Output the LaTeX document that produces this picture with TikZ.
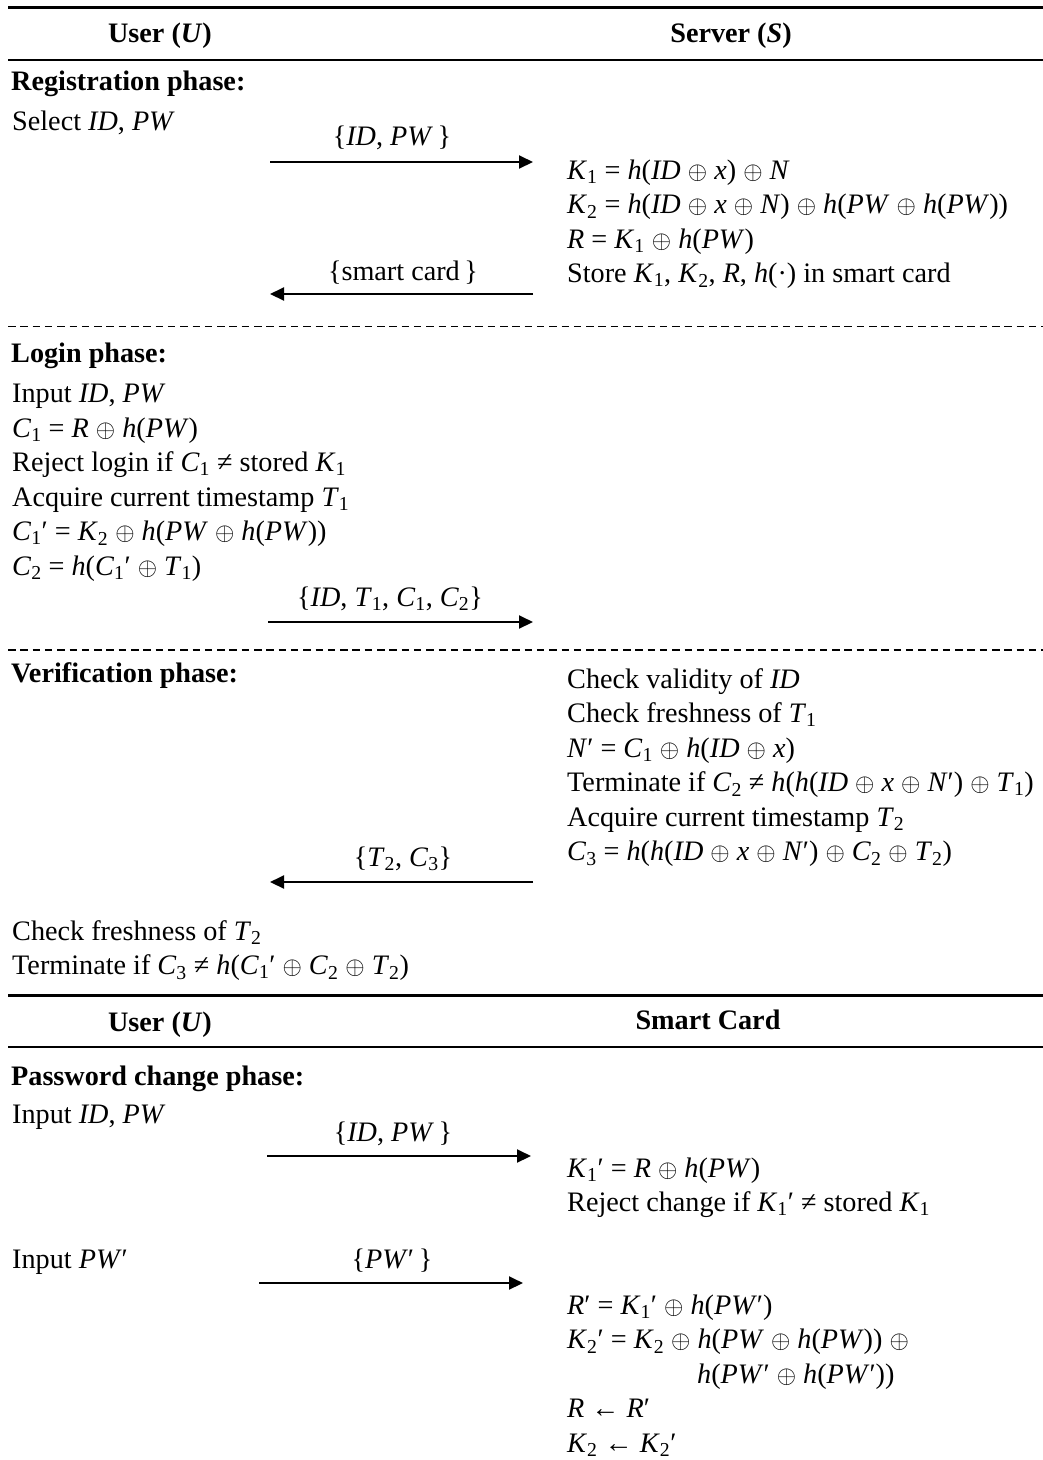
\documentclass[tikz,border=0pt]{standalone}
\usepackage{fontspec}
\setmainfont{Liberation Serif}
\usetikzlibrary{arrows.meta}
\newcommand\mi[1]{\textit{#1}}
\newcommand\sbs[1]{\textsubscript{#1}}
\newcommand\xo{$\oplus$}
\newcommand\fsz{\fontsize{28.2}{33}\selectfont}
\tikzset{
  txt/.style={anchor=base west, inner sep=0pt},
  ttl/.style={anchor=base west, inner sep=0pt, font=\fsz\bfseries},
  hdr/.style={anchor=base, inner sep=0pt, font=\fsz\bfseries},
  lbl/.style={anchor=base, inner sep=0pt},
  msg/.style={line width=2pt, -{Triangle[length=14pt,width=13pt]}},
  thickrule/.style={line width=3pt},
  thinrule/.style={line width=2pt},
  dashrule/.style={line width=1.4pt, dash pattern=on 7.5pt off 4.8pt},
}
\begin{document}
\begin{tikzpicture}[x=1pt,y=-1pt,every node/.append style={font=\fsz}]
\useasboundingbox (0,0) rectangle (1043,1460);
% rules
\draw[thickrule] (8,7) -- (1043,7);
\draw[thinrule] (8,60) -- (1043,60);
\draw[dashrule] (8,326.5) -- (1043,326.5);
\draw[dashrule] (8,650) -- (1043,650);
\draw[thickrule] (8,995) -- (1043,995);
\draw[thinrule] (8,1047) -- (1043,1047);
% headers
\node[hdr] (hu) at (160,42) {User (\textit{U})};
\node[hdr] (hs) at (731,42) {Server (\textit{S})};
% registration
\node[ttl] (regt) at (11,90) {Registration phase:};
\node[txt] (u1) at (12,130) {Select \mi{ID}, \mi{PW}};
\node[lbl] (m1) at (392,145) {\{\mi{ID}, \mi{PW}\,\}};
\coordinate (a1s) at (270,162);
\coordinate (a1e) at (533,162);
\draw[msg] (a1s) -- (a1e);
\node[txt] (s1) at (567,179) {\mi{K}\sbs{1} = \mi{h}(\mi{ID} \xo{} \mi{x}) \xo{} \mi{N}};
\node[txt] (s2) at (567,213.5) {\mi{K}\sbs{2} = \mi{h}(\mi{ID} \xo{} \mi{x} \xo{} \mi{N}) \xo{} \mi{h}(\mi{PW} \xo{} \mi{h}(\mi{PW}))};
\node[txt] (s3) at (567,248) {\mi{R} = \mi{K}\sbs{1} \xo{} \mi{h}(\mi{PW})};
\node[txt] (s4) at (567,282.5) {Store \mi{K}\sbs{1}, \mi{K}\sbs{2}, \mi{R}, \mi{h}(·) in smart card};
\node[lbl] (m2) at (403,280) {\{smart card\,\}};
\coordinate (a2s) at (533,294);
\coordinate (a2e) at (270,294);
\draw[msg] (a2s) -- (a2e);
% login
\node[ttl] (lt) at (11,362) {Login phase:};
\node[txt] (l1) at (12,402) {Input \mi{ID}, \mi{PW}};
\node[txt] (l2) at (12,437) {\mi{C}\sbs{1} = \mi{R} \xo{} \mi{h}(\mi{PW})};
\node[txt] (l3) at (12,471.5) {Reject login if \mi{C}\sbs{1} ≠ stored \mi{K}\sbs{1}};
\node[txt] (l4) at (12,506) {Acquire current timestamp \mi{T}\sbs{1}};
\node[txt] (l5) at (12,540.5) {\mi{C}\sbs{1}′ = \mi{K}\sbs{2} \xo{} \mi{h}(\mi{PW} \xo{} \mi{h}(\mi{PW}))};
\node[txt] (l6) at (12,575) {\mi{C}\sbs{2} = \mi{h}(\mi{C}\sbs{1}′ \xo{} \mi{T}\sbs{1})};
\node[lbl] (m3) at (390,606) {\{\mi{ID}, \mi{T}\sbs{1}, \mi{C}\sbs{1}, \mi{C}\sbs{2}\}};
\coordinate (a3s) at (268,622);
\coordinate (a3e) at (533,622);
\draw[msg] (a3s) -- (a3e);
% verification
\node[ttl] (vt) at (11,682) {Verification phase:};
\node[txt] (v1) at (567,688) {Check validity of \mi{ID}};
\node[txt] (v2) at (567,722.5) {Check freshness of \mi{T}\sbs{1}};
\node[txt] (v3) at (567,757) {\mi{N}′ = \mi{C}\sbs{1} \xo{} \mi{h}(\mi{ID} \xo{} \mi{x})};
\node[txt] (v4) at (567,791.5) {Terminate if \mi{C}\sbs{2} ≠ \mi{h}(\mi{h}(\mi{ID} \xo{} \mi{x} \xo{} \mi{N}′) \xo{} \mi{T}\sbs{1})};
\node[txt] (v5) at (567,826) {Acquire current timestamp \mi{T}\sbs{2}};
\node[txt] (v6) at (567,860.5) {\mi{C}\sbs{3} = \mi{h}(\mi{h}(\mi{ID} \xo{} \mi{x} \xo{} \mi{N}′) \xo{} \mi{C}\sbs{2} \xo{} \mi{T}\sbs{2})};
\node[lbl] (m4) at (403,866) {\{\mi{T}\sbs{2}, \mi{C}\sbs{3}\}};
\coordinate (a4s) at (533,882);
\coordinate (a4e) at (270,882);
\draw[msg] (a4s) -- (a4e);
\node[txt] (w1) at (12,940) {Check freshness of \mi{T}\sbs{2}};
\node[txt] (w2) at (12,974.5) {Terminate if \mi{C}\sbs{3} ≠ \mi{h}(\mi{C}\sbs{1}′ \xo{} \mi{C}\sbs{2} \xo{} \mi{T}\sbs{2})};
% password change
\node[hdr] (hu2) at (160,1031) {User (\textit{U})};
\node[hdr] (hsc) at (708,1029) {Smart Card};
\node[ttl] (pt) at (11,1085) {Password change phase:};
\node[txt] (p1) at (12,1123) {Input \mi{ID}, \mi{PW}};
\node[lbl] (m5) at (393,1141) {\{\mi{ID}, \mi{PW}\,\}};
\coordinate (a5s) at (267,1156);
\coordinate (a5e) at (531,1156);
\draw[msg] (a5s) -- (a5e);
\node[txt] (c1) at (567,1177) {\mi{K}\sbs{1}′ = \mi{R} \xo{} \mi{h}(\mi{PW})};
\node[txt] (c2) at (567,1211.5) {Reject change if \mi{K}\sbs{1}′ ≠ stored \mi{K}\sbs{1}};
\node[txt] (p2) at (12,1268) {Input \mi{PW}′};
\node[lbl] (m6) at (392,1268) {\{\mi{PW}′\,\}};
\coordinate (a6s) at (259,1283);
\coordinate (a6e) at (523,1283);
\draw[msg] (a6s) -- (a6e);
\node[txt] (c3) at (567,1314) {\mi{R}′ = \mi{K}\sbs{1}′ \xo{} \mi{h}(\mi{PW}′)};
\node[txt] (c4) at (567,1348.5) {\mi{K}\sbs{2}′ = \mi{K}\sbs{2} \xo{} \mi{h}(\mi{PW} \xo{} \mi{h}(\mi{PW})) \xo{}};
\node[txt] (c5) at (697,1383) {\mi{h}(\mi{PW}′ \xo{} \mi{h}(\mi{PW}′))};
\node[txt] (c6) at (567,1417.5) {\mi{R} ← \mi{R}′};
\node[txt] (c7) at (567,1452) {\mi{K}\sbs{2} ← \mi{K}\sbs{2}′};
\end{tikzpicture}
\end{document}
